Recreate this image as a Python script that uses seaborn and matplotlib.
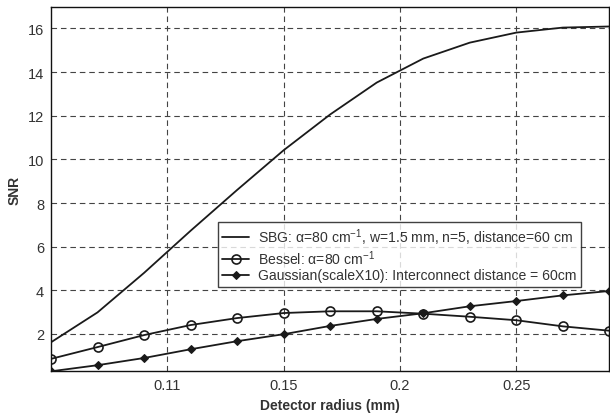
import matplotlib
matplotlib.use("Agg")
import matplotlib.pyplot as plt
import seaborn as sns
import pandas as pd

radius = [0.05, 0.07, 0.09, 0.11, 0.13, 0.15, 0.17, 0.19, 0.21, 0.23, 0.25, 0.27, 0.29]
sbg = [1.62, 2.99, 4.80, 6.73, 8.60, 10.42, 12.06, 13.52, 14.62, 15.35, 15.81, 16.04, 16.09]
bessel = [0.86, 1.40, 1.95, 2.41, 2.73, 2.96, 3.04, 3.04, 2.93, 2.79, 2.63, 2.35, 2.15]
gaussian = [0.29, 0.57, 0.90, 1.30, 1.67, 1.99, 2.37, 2.69, 2.95, 3.27, 3.51, 3.77, 3.97]

xtick_pos = [0.10, 0.15, 0.20, 0.25]
xtick_labels = ["0.11", "0.15", "0.2", "0.25"]
ytick_pos = [2, 4, 6, 8, 10, 12, 14, 16]
ytick_labels = ["2", "4", "6", "8", "10", "12", "14", "16"]

labels = [
    "SBG: \u03b1=80 cm$^{-1}$, w=1.5 mm, n=5, distance=60 cm",
    "Bessel: \u03b1=80 cm$^{-1}$",
    "Gaussian(scaleX10): Interconnect distance = 60cm",
]

sns.set_style("white")
plt.rcParams["font.family"] = ["Liberation Sans", "DejaVu Sans"]
plt.rcParams["mathtext.fontset"] = "custom"
plt.rcParams["mathtext.rm"] = "Liberation Sans"
plt.rcParams["mathtext.it"] = "Liberation Sans:italic"
plt.rcParams["mathtext.bf"] = "Liberation Sans:bold"

df = pd.DataFrame({"radius": radius, "sbg": sbg, "bessel": bessel, "gaussian": gaussian})

fig = plt.figure(figsize=(6.10, 4.14), dpi=100)
ax = fig.add_axes([0.0836, 0.1007, 0.999 - 0.0836, 0.980 - 0.1007])

col = "#1a1a1a"
sns.lineplot(data=df, x="radius", y="sbg", ax=ax, color=col, lw=1.3, label=labels[0])
sns.lineplot(data=df, x="radius", y="bessel", ax=ax, color=col, lw=1.3, marker="o",
             markersize=6.5, markerfacecolor="none", markeredgecolor=col, markeredgewidth=1.2,
             label=labels[1])
sns.lineplot(data=df, x="radius", y="gaussian", ax=ax, color=col, lw=1.3, marker="D",
             markersize=3.6, markerfacecolor=col, markeredgecolor=col, label=labels[2])

ax.set_xlim(0.05, 0.29)
ax.set_ylim(0.29, 16.97)
ax.set_xticks(xtick_pos)
ax.set_xticklabels(xtick_labels)
ax.set_yticks(ytick_pos)
ax.set_yticklabels(ytick_labels)
ax.tick_params(direction="in", length=3, labelsize=10.5, colors="#333333", pad=5)

ax.grid(True, color="#444444", linestyle=(0, (5, 3.5)), linewidth=0.8)
for s in ax.spines.values():
    s.set_visible(True)
    s.set_color("#111111")
    s.set_linewidth(1.0)

ax.set_xlabel("Detector radius (mm)", fontsize=10, fontweight="bold", color="#333333", labelpad=4)
ax.set_ylabel("SNR", fontsize=10, fontweight="bold", color="#333333")
ax.yaxis.set_label_coords(-0.053, 0.5)

leg = ax.legend(loc="upper left", bbox_to_anchor=(0.2996, 0.411), borderaxespad=0,
                fontsize=10.1, frameon=True, fancybox=False, edgecolor="#111111",
                handlelength=1.9, handletextpad=0.65, borderpad=0.3, labelspacing=0.12)
leg.get_frame().set_linewidth(1.0)
for t in leg.get_texts():
    t.set_color("#333333")

fig.savefig("out.png", dpi=100)
